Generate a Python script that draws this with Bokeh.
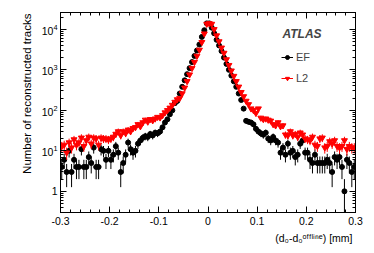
import numpy as np
from bokeh.plotting import figure
from bokeh.models import (ColumnDataSource, LinearAxis, LogAxis, Legend, LegendItem,
                          Label, Title, Range1d, FixedTicker, LogTickFormatter,
                          CustomJSTickFormatter, CustomLabelingPolicy)
from bokeh.embed import file_html
from bokeh.resources import INLINE

# ---- data -------------------------------------------------------------
x_lo, x_hi, n_bins = -0.3, 0.3, 120

ef_counts = [
    4, 6, 3, 10, 3, 6, 4, 4, 11, 4,
    4, 7, 5, 12, 4, 4, 11, 10, 6, 10,
    6, 8, 13, 9, 3, 5, 8, 16, 11, 9,
    10, 15, 18, 21, 23, 22, 26, 24, 28, 27,
    30, 38, 50, 60, 80, 100, 150, 170, 260, 380,
    550, 780, 1100, 1550, 2200, 3000, 4200, 6500, 9500, 14000,
    14000, 11000, 8000, 5500, 4000, 2900, 2000, 1400, 1000, 720,
    520, 380, 260, 180, 110, 55, 52, 50, 45, 35,
    30, 27, 25, 28, 20, 18, 22, 18, 16, 9,
    12, 8, 15, 9, 10, 7, 8, 15, 18, 9,
    9, 6, 5, 8, 5, 5, 5, 5, 6, 5,
    3, 7, 6, 7, 4, 1, 6, 5, 3, 4,
]

l2_counts = [
    13, 14, 9, 16, 12, 19, 14, 16, 21, 13,
    18, 22, 15, 21, 20, 14, 21, 20, 20, 19,
    20, 22, 26, 30, 24, 30, 27, 33, 30, 36,
    38, 45, 40, 50, 58, 52, 60, 56, 62, 68,
    66, 75, 88, 100, 115, 135, 160, 185, 200, 260,
    360, 520, 760, 1100, 1550, 2200, 3100, 4800, 7800, 13500,
    14000, 13500, 10000, 7000, 5000, 3500, 2600, 1800, 1300, 950,
    700, 520, 380, 280, 220, 170, 140, 110, 100, 85,
    110, 65, 60, 62, 58, 55, 45, 42, 50, 40,
    42, 25, 24, 30, 24, 26, 22, 28, 25, 20,
    19, 18, 22, 14, 13, 20, 21, 12, 13, 17,
    15, 18, 13, 12, 13, 18, 11, 13, 12, 12,
]

series_names = ["EF", "L2"]
x_tick_values = [-0.3, -0.2, -0.1, 0.0, 0.1, 0.2, 0.3]
y_tick_values = [1, 10, 100, 1000, 10000]
x_title = "(d\u2080-d\u2080\u1d52\u1da0\u1da0\u02e1\u2071\u207f\u1d49) [mm]"
y_title = "Number of reconstructed tracks"

# ---- derived ----------------------------------------------------------
width_bin = (x_hi - x_lo) / n_bins
centers = x_lo + (np.arange(n_bins) + 0.5) * width_bin


def make_source(counts):
    c = np.array(counts, dtype=float)
    err = np.sqrt(c)
    return ColumnDataSource(dict(x=centers, y=c,
                                 lo=np.maximum(c - err, 1e-3), hi=c + err))


ef_src = make_source(ef_counts)
l2_src = make_source(l2_counts)

FONT = "Liberation Sans"

p = figure(width=374, height=253, y_axis_type="log",
           x_range=Range1d(x_lo, x_hi), y_range=Range1d(0.3, 26000),
           output_backend="svg", toolbar_location=None,
           min_border_left=60, min_border_right=19,
           min_border_top=12, min_border_bottom=41)
p.grid.visible = False
p.outline_line_color = "black"
p.outline_line_width = 1
p.background_fill_color = "white"
p.border_fill_color = "white"

x_minor = [round(-0.3 + 0.02 * k, 2) for k in range(31)]
x_ticker = FixedTicker(ticks=x_tick_values, minor_ticks=x_minor)
y_ticker = FixedTicker(ticks=y_tick_values,
                       minor_ticks=[m * 10.0 ** e for e in range(-1, 5) for m in range(2, 10)])
x_fmt = CustomJSTickFormatter(code="""
const v = Math.round(tick*10)/10;
return v === 0 ? "0" : v.toFixed(1);
""")
hide_all = CustomLabelingPolicy(code="""
for (const i of Array.from(indices)) { indices.unset(i) }
return indices
""")


def style_axis(ax, labels=True):
    ax.major_tick_in = 6
    ax.major_tick_out = 0
    ax.minor_tick_in = 3
    ax.minor_tick_out = 0
    ax.axis_line_color = "black"
    ax.major_tick_line_color = "black"
    ax.minor_tick_line_color = "black"
    ax.axis_label = None
    if labels:
        ax.major_label_text_font = FONT
        ax.major_label_text_font_size = "10.5px"
        ax.major_label_text_color = "black"
    else:
        ax.major_label_text_font_size = "1px"
        ax.major_label_standoff = 0
        ax.major_label_policy = hide_all


xa = p.xaxis[0]
xa.ticker = x_ticker
xa.formatter = x_fmt
style_axis(xa)
xa.major_label_standoff = 4

ya = p.yaxis[0]
ya.ticker = y_ticker
ya.formatter = LogTickFormatter(min_exponent=1)
style_axis(ya)
ya.major_label_standoff = 3

top = LinearAxis(ticker=x_ticker)
style_axis(top, labels=False)
p.add_layout(top, "above")

right = LogAxis(ticker=y_ticker)
style_axis(right, labels=False)
p.add_layout(right, "right")

# axis titles as side-panel titles (right/top aligned, like ROOT)
p.add_layout(Title(text=y_title, align="right", offset=1, standoff=11,
                   text_font=FONT, text_font_size="11.5px", text_color="black",
                   text_font_style="normal"), "left")
p.add_layout(Title(text=x_title, align="right", offset=3, standoff=4,
                   text_font=FONT, text_font_size="10.5px", text_color="black",
                   text_font_style="normal"), "below")

# ---- glyphs -----------------------------------------------------------
ef_err = p.segment(x0="x", y0="lo", x1="x", y1="hi", source=ef_src,
                   line_color="black", line_width=1)
ef_pts = p.scatter("x", "y", source=ef_src, marker="circle", size=5,
                   fill_color="black", line_color="black")
l2_err = p.segment(x0="x", y0="lo", x1="x", y1="hi", source=l2_src,
                   line_color="#ff0000", line_width=1)
l2_pts = p.scatter("x", "y", source=l2_src, marker="inverted_triangle", size=6,
                   fill_color="#ff0000", line_color="#ff0000")

legend = Legend(items=[LegendItem(label=series_names[0], renderers=[ef_err, ef_pts]),
                       LegendItem(label=series_names[1], renderers=[l2_err, l2_pts])],
                location=(221, 128), padding=0, margin=0, spacing=9,
                glyph_width=12, glyph_height=10, label_height=10,
                label_standoff=3, label_text_font=FONT,
                label_text_font_size="11px", border_line_alpha=0,
                background_fill_alpha=0)
p.add_layout(legend)

p.add_layout(Label(x=241.5, y=179, x_units="screen", y_units="screen",
                   text="ATLAS", text_font=FONT, text_font_size="12px",
                   text_font_style="bold italic", text_align="center",
                   text_baseline="middle"))

open("out.html", "w").write(file_html(p, INLINE))
